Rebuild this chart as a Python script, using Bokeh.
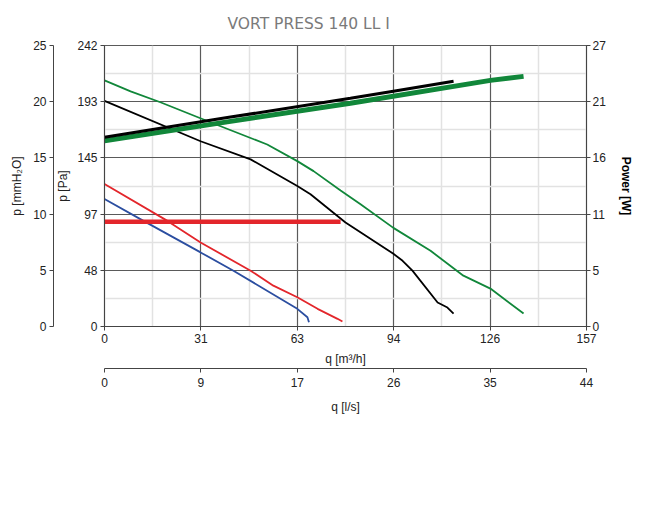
from bokeh.plotting import figure
from bokeh.models import Range1d, LinearAxis, FixedTicker, CustomJSTickFormatter, Title
from bokeh.embed import file_html
from bokeh.resources import INLINE

title_text = "VORT PRESS 140 LL I"
q_max = 157.0    # m3/h
p_max = 241.6    # Pa
w_max = 26.5     # W

x_tick_labels = ["0", "31", "63", "94", "126", "157"]
ls_tick_labels = ["0", "9", "17", "26", "35", "44"]
pa_tick_labels = ["0", "48", "97", "145", "193", "242"]
mm_tick_labels = ["0", "5", "10", "15", "20", "25"]
w_tick_labels = ["0", "5", "11", "16", "21", "27"]

# pressure curves: q [m3/h], p [Pa]
q_black = [0, 31.3, 47.6, 62.8, 67.1, 78.5, 94.1, 97.1, 100.3, 108.5, 111.7, 113.7]
p_black = [194.0, 159.3, 143.7, 120.8, 113.7, 89.4, 62.5, 56.5, 48.0, 20.6, 16.3, 11.1]

q_green = [0, 8.5, 18.2, 34.5, 53.0, 62.8, 68.1, 76.9, 83.4, 94.1, 106.2, 116.9, 125.7, 136.5]
p_green = [211.6, 202.2, 192.8, 175.6, 156.5, 142.2, 133.6, 117.0, 105.1, 84.8, 65.1, 43.7, 32.6, 11.1]

q_red = [0, 20.5, 31.3, 47.6, 55.0, 62.8, 69.4, 75.9, 77.5]
p_red = [122.5, 90.8, 72.2, 48.0, 35.1, 25.1, 15.2, 6.6, 4.3]

q_blue = [0, 12.7, 31.3, 42.0, 62.8, 66.1, 66.6]
p_blue = [109.7, 90.8, 63.7, 48.0, 15.2, 8.0, 3.7]

# power curves: q [m3/h], W
qw_black = [0, 40.0, 80.1, 94.1, 113.7]
w_black = [17.85, 19.7, 21.52, 22.19, 23.12]

qw_green = [0, 40.0, 80.1, 125.7, 136.5]
w_green = [17.52, 19.3, 21.05, 23.21, 23.59]

qw_red = [0, 76.9]
w_red = [9.87, 9.87]

GREEN = "#11873a"
RED = "#e3262b"
BLUE = "#2b4ea0"
BLACK = "#000000"
TXT = "#222222"
AX = "#444444"

p = figure(width=640, height=524, x_range=Range1d(0, q_max), y_range=Range1d(0, p_max),
           output_backend="svg", toolbar_location=None,
           min_border_left=104, min_border_right=54, min_border_top=44, min_border_bottom=198)
p.extra_y_ranges = {"w": Range1d(0, w_max)}

p.title = Title(text=title_text, align="left", offset=123, text_font="DejaVu Sans",
                text_font_size="15.5px", text_font_style="normal", text_color="#7a7a7a",
                standoff=25)

def ticks(vmax):
    return [vmax * i / 5 for i in range(6)]

def minors(vmax):
    return [vmax * (i + 0.5) / 5 for i in range(5)]

def fmt(labels, step):
    return CustomJSTickFormatter(args=dict(labels=labels, step=step),
                                 code="return labels[Math.round(tick / step)];")

def style_axis(ax, label, bold=False, lab_standoff=3, axlab_standoff=6):
    ax.axis_label = label
    ax.axis_label_text_font = "Liberation Sans"
    ax.axis_label_text_font_size = "12px"
    ax.axis_label_text_font_style = "bold" if bold else "normal"
    ax.axis_label_text_color = "#000000" if bold else TXT
    ax.major_label_text_font = "Liberation Sans"
    ax.major_label_text_font_size = "12px"
    ax.major_label_text_color = TXT
    ax.axis_line_color = AX
    ax.major_tick_line_color = AX
    ax.minor_tick_line_color = None
    ax.major_tick_in = 0
    ax.major_tick_out = 4
    ax.major_label_standoff = lab_standoff
    ax.axis_label_standoff = axlab_standoff

# bottom axes
xax = p.below[0]
xax.ticker = FixedTicker(ticks=ticks(q_max), minor_ticks=minors(q_max))
xax.formatter = fmt(x_tick_labels, q_max / 5)
style_axis(xax, "q [m³/h]")

ls_ax = LinearAxis(ticker=FixedTicker(ticks=ticks(q_max)), formatter=fmt(ls_tick_labels, q_max / 5))
style_axis(ls_ax, "q [l/s]", lab_standoff=5, axlab_standoff=10)
p.add_layout(ls_ax, "below")

# left axes
yax = p.left[0]
yax.ticker = FixedTicker(ticks=ticks(p_max), minor_ticks=minors(p_max))
yax.formatter = fmt(pa_tick_labels, p_max / 5)
style_axis(yax, "p [Pa]", axlab_standoff=4)

mm_ax = LinearAxis(ticker=FixedTicker(ticks=ticks(p_max)), formatter=fmt(mm_tick_labels, p_max / 5))
style_axis(mm_ax, "p [mmH₂O]")
p.add_layout(mm_ax, "left")

# right axis
w_ax = LinearAxis(y_range_name="w", ticker=FixedTicker(ticks=ticks(w_max)),
                  formatter=fmt(w_tick_labels, w_max / 5))
style_axis(w_ax, "Power [W]", bold=True, lab_standoff=2, axlab_standoff=10)
p.add_layout(w_ax, "right")

for g in (p.xgrid[0], p.ygrid[0]):
    g.grid_line_color = "#5a5a5a"
    g.grid_line_width = 1.2
    g.minor_grid_line_color = "#e2e2e2"
    g.minor_grid_line_width = 1.5

p.outline_line_color = "#5a5a5a"
p.outline_line_width = 1.2
p.background_fill_color = "white"
p.border_fill_color = "white"

# curves
p.line(q_blue, p_blue, line_color=BLUE, line_width=1.8)
p.line(q_red, p_red, line_color=RED, line_width=1.8)
p.line(q_black, p_black, line_color=BLACK, line_width=1.8)
p.line(q_green, p_green, line_color=GREEN, line_width=1.8)

p.line(qw_red, w_red, y_range_name="w", line_color=RED, line_width=4.5)
p.line(qw_green, w_green, y_range_name="w", line_color=GREEN, line_width=5)
p.line(qw_black, w_black, y_range_name="w", line_color=BLACK, line_width=3)

open("out.html", "w").write(file_html(p, INLINE))
